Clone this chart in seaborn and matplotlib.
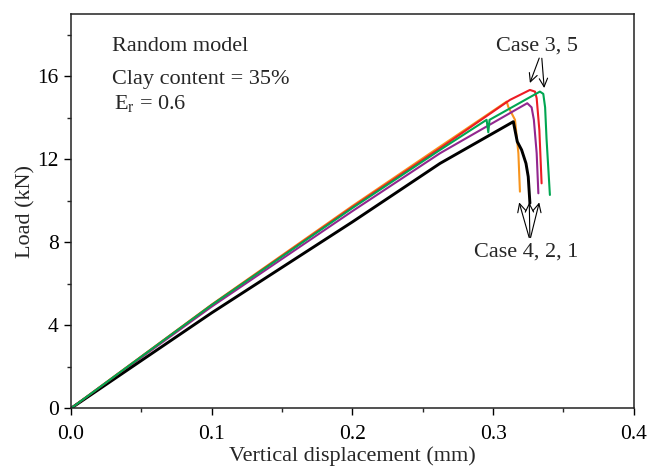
import matplotlib
matplotlib.use("Agg")
import matplotlib.pyplot as plt
import seaborn as sns

# ---- data ----
disp_orange = [0, 0.1, 0.2, 0.2623, 0.3097, 0.3108, 0.3156, 0.318, 0.3191]
load_orange = [0, 5.0, 9.75, 12.61, 14.78, 14.53, 13.9, 12.29, 10.44]

disp_red = [0, 0.1, 0.2, 0.2623, 0.312, 0.3262, 0.3298, 0.331, 0.3329, 0.3345]
load_red = [0, 4.98, 9.7, 12.53, 14.86, 15.34, 15.26, 14.94, 13.41, 10.84]

disp_green = [0, 0.1, 0.2, 0.2623, 0.2954, 0.2966, 0.2975, 0.3333, 0.3357, 0.337, 0.338, 0.3404]
load_green = [0, 4.98, 9.65, 12.45, 13.9, 13.3, 13.9, 15.26, 15.15, 14.5, 13.0, 10.28]

disp_purple = [0, 0.1, 0.2, 0.2623, 0.3168, 0.3243, 0.3274, 0.329, 0.331, 0.3322]
load_purple = [0, 4.9, 9.5, 12.29, 14.41, 14.70, 14.5, 13.9, 12.29, 10.36]

disp_black = [0, 0.1, 0.2, 0.2623, 0.3144, 0.3172, 0.3203, 0.3234, 0.325, 0.3262]
load_black = [0, 4.6, 8.98, 11.8, 13.81, 12.85, 12.45, 11.8, 11.16, 9.88]

x_ticks = [0.0, 0.1, 0.2, 0.3, 0.4]
y_ticks = [0, 4, 8, 12, 16]

sns.set_style("ticks")
plt.rcParams["font.family"] = ["Liberation Serif", "DejaVu Serif"]
plt.rcParams["mathtext.fontset"] = "custom"
plt.rcParams["mathtext.rm"] = "Liberation Serif"

fig = plt.figure(figsize=(6.48, 4.66), dpi=100)
ax = fig.add_axes([0.1096, 0.1238, 0.978 - 0.1096, 0.97 - 0.1238])

series = [
    (disp_orange, load_orange, "#f7941d", 1.5),
    (disp_purple, load_purple, "#92278f", 1.5),
    (disp_black, load_black, "#000000", 2.1),
    (disp_red, load_red, "#ed1c24", 1.5),
    (disp_green, load_green, "#00a651", 1.5),
]
for dx, ly, c, lw in series:
    sns.lineplot(x=dx, y=ly, ax=ax, color=c, linewidth=lw, sort=False, estimator=None)

ax.set_xlim(0, 0.4)
ax.set_ylim(0, 19)
ax.set_xticks(x_ticks)
ax.set_xticklabels([f"{v:.1f}" for v in x_ticks])
ax.set_yticks(y_ticks)
ax.set_xticks([0.05, 0.15, 0.25, 0.35], minor=True)
ax.set_yticks([2, 6, 10, 14, 18], minor=True)
ax.tick_params(axis="both", which="major", direction="out", length=5, width=1.0,
               labelsize=15.5, top=False, right=False, colors="black", pad=4)
ax.tick_params(axis="x", which="major", pad=7)
ax.tick_params(axis="both", which="minor", direction="out", length=3, width=1.0,
               top=False, right=False)
for s in ax.spines.values():
    s.set_visible(True)
    s.set_linewidth(1.1)
    s.set_color("#222222")

ax.set_xlabel("Vertical displacement (mm)", fontsize=16, labelpad=2)
ax.set_ylabel("Load (kN)", fontsize=16, labelpad=1)

ax.text(0.0289, 17.2, "Random model", fontsize=16, va="baseline", ha="left")
ax.text(0.0289, 15.65, "Clay content = 35%", fontsize=16, va="baseline", ha="left")
ax.text(0.0305, 14.4, r"E$_\mathregular{r}$ = 0.6", fontsize=16, va="baseline", ha="left")

arrow_kw = dict(arrowstyle="->", color="black", lw=0.8, mutation_scale=15)
ax.text(0.331, 17.25, "Case 3, 5", fontsize=16, ha="center", va="baseline")
ax.annotate("", xy=(0.3255, 15.55), xytext=(0.3335, 17.0), arrowprops=arrow_kw)
ax.annotate("", xy=(0.3365, 15.3), xytext=(0.3345, 17.0), arrowprops=arrow_kw)

ax.text(0.3239, 7.3, "Case 4, 2, 1", fontsize=16, ha="center", va="baseline")
for tx in [0.318, 0.3257, 0.3333]:
    ax.annotate("", xy=(tx, 10.05), xytext=(0.3262, 8.1), arrowprops=arrow_kw)

fig.savefig("out.png", dpi=100)
